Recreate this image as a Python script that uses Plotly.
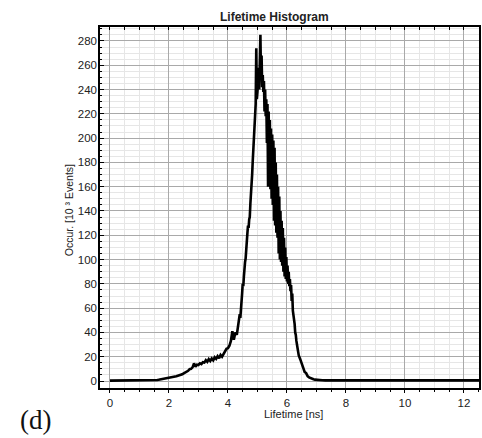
import plotly.graph_objects as go

# Lifetime axis values (ns) and occurrences (10^3 events)
lifetime_ns = [
    0.00, 0.50, 1.00, 1.50, 1.55, 1.60, 1.65, 1.70, 1.75, 1.80, 1.85, 1.90, 1.95,
    2.00, 2.05, 2.10, 2.15, 2.20, 2.25, 2.30, 2.35, 2.40, 2.45, 2.50, 2.55, 2.60,
    2.65, 2.70, 2.75, 2.80, 2.85, 2.90, 2.95, 3.00, 3.05, 3.10, 3.15, 3.20, 3.25,
    3.30, 3.35, 3.40, 3.45, 3.50, 3.55, 3.60, 3.65, 3.70, 3.75, 3.80, 3.85, 3.90,
    3.95, 4.00, 4.05, 4.10, 4.15, 4.20, 4.25, 4.30, 4.35,
    4.38, 4.40, 4.42, 4.44, 4.46, 4.48, 4.50, 4.52, 4.54, 4.56, 4.58, 4.60, 4.62,
    4.64, 4.66, 4.68, 4.70, 4.72, 4.74, 4.76, 4.78, 4.80, 4.82, 4.84, 4.86, 4.88,
    4.90, 4.92, 4.94, 4.96, 4.98, 5.00, 5.02, 5.04, 5.06, 5.08, 5.10, 5.12, 5.14,
    5.16, 5.18, 5.20, 5.22, 5.24, 5.26, 5.28, 5.30, 5.32, 5.34, 5.36, 5.38, 5.40,
    5.42, 5.44, 5.46, 5.48, 5.50, 5.52, 5.54, 5.56, 5.58, 5.60, 5.62, 5.64, 5.66,
    5.68, 5.70, 5.72, 5.74, 5.76, 5.78, 5.80, 5.82, 5.84, 5.86, 5.88, 5.90, 5.92,
    5.94, 5.96, 5.98, 6.00, 6.02, 6.04, 6.06, 6.08, 6.10, 6.12, 6.14, 6.16, 6.18,
    6.20, 6.22, 6.24, 6.26, 6.28, 6.30, 6.32, 6.34, 6.36, 6.38, 6.40,
    6.45, 6.50, 6.55, 6.60, 6.65, 6.70, 6.75, 6.80, 6.85, 6.90, 6.95, 7.00, 7.10,
    7.20, 7.30, 12.55,
]

occurrences = [
    0.3, 0.3, 0.4, 0.6, 0.7, 0.8, 1.0, 1.2, 1.3, 1.5, 1.7, 1.9, 2.1,
    2.3, 2.6, 2.9, 3.2, 3.5, 3.9, 4.3, 4.6, 5.2, 5.5, 6.3, 6.8, 7.5,
    8.4, 9.8, 10.0, 11.2, 14.5, 11.8, 13.5, 13.2, 14.6, 14.0, 15.5, 15.2, 17.2,
    15.8, 18.0, 16.5, 18.5, 17.0, 19.5, 18.2, 20.5, 18.8, 21.5, 20.0, 22.5, 24.0,
    26.5, 27.0, 29.0, 33.0, 41.0, 34.0, 40.0, 38.0, 46.0,
    50, 55, 52, 63, 68, 72, 80, 78, 86, 95, 98, 101, 106,
    112, 122, 128, 126, 133, 135, 146, 152, 158, 170, 181, 192, 203,
    212, 220, 228, 274, 232, 238, 246, 258, 240, 262, 285, 250, 268,
    242, 252, 238, 247, 222, 240, 218, 232, 196, 228, 160, 222, 168,
    215, 158, 208, 150, 203, 145, 198, 132, 192, 128, 180, 122, 170,
    118, 160, 105, 152, 100, 140, 98, 132, 95, 126, 90, 118, 86,
    110, 84, 102, 82, 95, 80, 90, 78, 84, 74, 79, 66, 72,
    58, 55, 49, 47, 40, 38, 33, 31, 27, 24, 21,
    18, 14, 11, 7.5, 6.5, 4.0, 3.0, 2.3, 1.8, 1.4, 1.1, 0.9, 0.7,
    0.6, 0.5, 0.5,
]

x_ticks = [0, 2, 4, 6, 8, 10, 12]
y_ticks = [0, 20, 40, 60, 80, 100, 120, 140, 160, 180, 200, 220, 240, 260, 280]

W, H = 482, 438
L, R, T, B = 100, 1, 27, 50
X_RANGE = [-0.337, 12.51]
Y_RANGE = [-5.76, 291.5]

pw = W - L - R
ph = H - T - B


def px(xp):
    return (xp - L) / pw


def py(yp):
    return (H - B - yp) / ph


FONT = "Liberation Sans, Arial, sans-serif"

fig = go.Figure()
fig.add_trace(go.Scatter(
    x=lifetime_ns, y=occurrences, mode="lines",
    line=dict(color="black", width=2.6),
    showlegend=False, hoverinfo="skip",
))
fig.add_trace(go.Scatter(x=[None], y=[None], xaxis="x2", showlegend=False,
                         hoverinfo="skip"))

fig.update_layout(
    width=W, height=H,
    margin=dict(l=L, r=R, t=T, b=B, pad=0),
    paper_bgcolor="white", plot_bgcolor="white",
    font=dict(family=FONT, size=11, color="#222222"),
    xaxis=dict(
        range=X_RANGE, tickvals=x_ticks, showgrid=True,
        gridcolor="#a9a9a9", gridwidth=1, zeroline=False,
        showline=True, linecolor="black", linewidth=1.5, mirror=True,
        ticks="outside", ticklen=3, tickcolor="black", tickwidth=1,
        tickfont=dict(size=11.5, color="#222222"),
        minor=dict(dtick=0.5, showgrid=True, gridcolor="#e6e6e6",
                   ticks="outside", ticklen=2, tickcolor="black"),
        ticklabelstandoff=0,
    ),
    xaxis2=dict(
        range=X_RANGE, overlaying="x", side="top", showgrid=False,
        zeroline=False, showticklabels=False, tickvals=x_ticks,
        ticks="inside", ticklen=3, tickcolor="black",
        minor=dict(dtick=0.5, ticks="inside", ticklen=3, tickcolor="black"),
    ),
    yaxis=dict(
        range=Y_RANGE, tickvals=y_ticks, showgrid=True,
        gridcolor="#a9a9a9", gridwidth=1, zeroline=False,
        showline=True, linecolor="black", linewidth=1.5, mirror=True,
        ticks="inside", ticklen=4, tickcolor="black", tickwidth=1,
        tickfont=dict(size=11.5, color="#222222"),
        minor=dict(dtick=5, showgrid=True, gridcolor="#e6e6e6",
                   ticks="inside", ticklen=2, tickcolor="black"),
        ticklabelstandoff=-1,
    ),
    annotations=[
        dict(text="<b>Lifetime Histogram</b>", x=px(275), y=py(16.7),
             xref="paper", yref="paper", showarrow=False,
             xanchor="center", yanchor="middle",
             font=dict(family=FONT, size=12, color="#222222")),
        dict(text="Occur. [10 ³ Events]", x=px(69), y=py(210),
             xref="paper", yref="paper", showarrow=False, textangle=-90,
             xanchor="center", yanchor="middle",
             font=dict(family=FONT, size=10.5, color="#222222")),
        dict(text="Lifetime [ns]", x=px(294.5), y=py(414),
             xref="paper", yref="paper", showarrow=False,
             xanchor="center", yanchor="middle",
             font=dict(family=FONT, size=11, color="#222222")),
        dict(text="(d)", x=px(35), y=py(420),
             xref="paper", yref="paper", showarrow=False,
             xanchor="center", yanchor="middle",
             font=dict(family="Liberation Serif, Times New Roman, serif",
                       size=27, color="#111111")),
    ],
)

fig.write_html("out.html")
